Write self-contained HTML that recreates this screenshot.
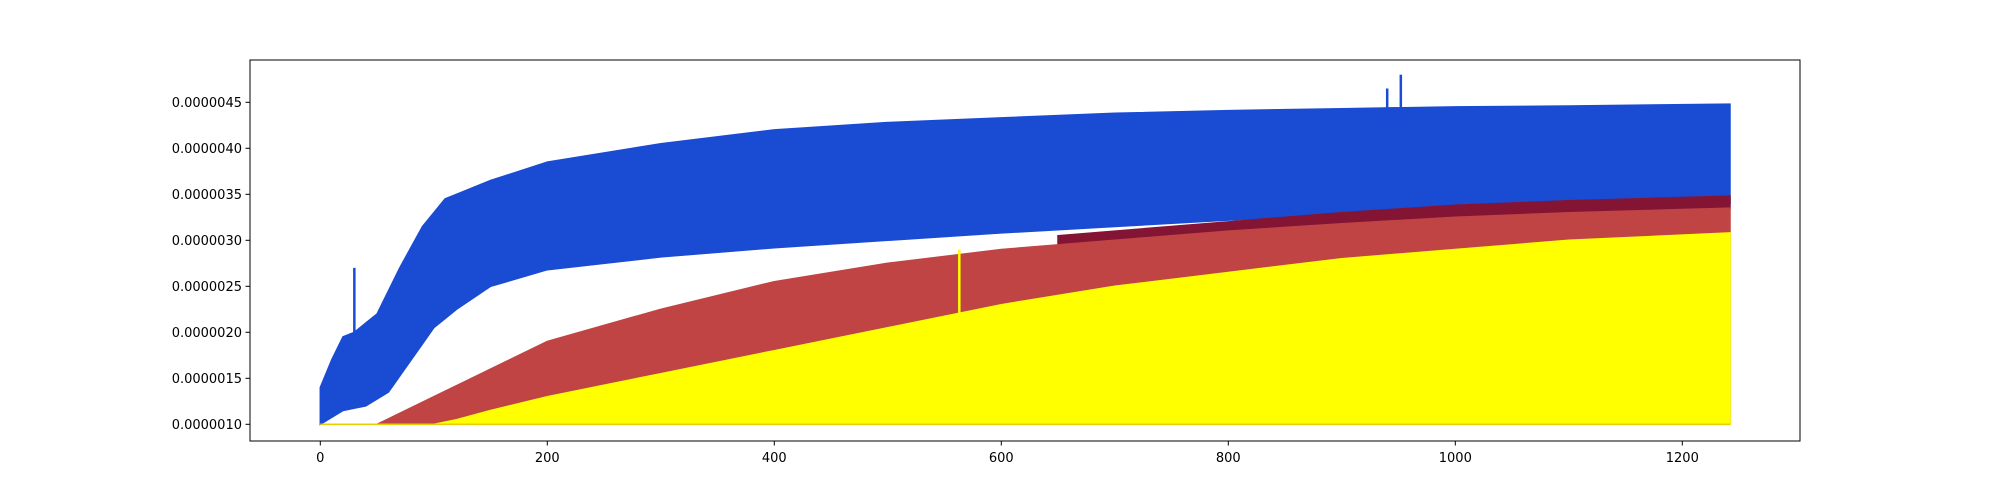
<!DOCTYPE html>
<html><head><meta charset="utf-8"><style>
html,body{margin:0;padding:0;background:#fff;}
svg{display:block;font-family:"DejaVu Sans","Liberation Sans",sans-serif;}
</style></head><body>
<svg id="chart" width="2000" height="496" viewBox="0 0 2000 496" xmlns="http://www.w3.org/2000/svg">
<rect x="0" y="0" width="2000" height="496" fill="#fff"/>
<g id="series"></g>
<g id="axes"></g>
</svg>
<script>
// values in units of 1e-7
const blueX = [0,10,20,30,50,70,90,110,150,200,300,400,500,600,700,800,900,1000,1100,1242];
const blueUpper = [14,17,19.5,20,22,27,31.5,34.5,36.5,38.5,40.5,42,42.8,43.3,43.8,44.1,44.3,44.5,44.6,44.8];
const blueLowerX = [0,20,40,60,80,100,120,150,200,300,400,500,600,700,800,900,1000,1100,1242];
const blueLower = [10,11.5,12,13.5,17,20.5,22.5,25,26.8,28.2,29.2,30,30.8,31.5,32.2,32.8,33.2,33.5,34];
const darkX = [650,700,800,900,1000,1100,1242];
const darkUpper = [30.5,31,32,33,33.8,34.3,34.8];
const redX = [50,100,150,200,300,400,500,600,700,800,900,1000,1100,1242];
const redUpper = [10,13,16,19,22.5,25.5,27.5,29,30,31,31.8,32.5,33,33.5];
const yellowX = [100,120,150,200,300,400,500,600,700,800,900,1000,1100,1242];
const yellowUpper = [10,10.5,11.5,13,15.5,18,20.5,23,25,26.5,28,29,30,30.8];
const spikeX = [30,940,952,563];
const spikeVal = [27,46.5,48,29];
const spikeSeries = ['blue','blue','blue','yellow'];
const xTicks = [0,200,400,600,800,1000,1200];
const yTicks = [10,15,20,25,30,35,40,45];
const yTickLabels = ["0.0000010","0.0000015","0.0000020","0.0000025","0.0000030","0.0000035","0.0000040","0.0000045"];

const L=250,R=1800,T=60,B=441;
const X = v => 320.3 + v*(1362/1200);
const Y = v => 424.3 - (v-10)*9.2;
const NS='http://www.w3.org/2000/svg';
const S=document.getElementById('series'), A=document.getElementById('axes');
function interp(xs,ys,x){ if(x<=xs[0])return ys[0]; for(let i=1;i<xs.length;i++){ if(x<=xs[i]){const t=(x-xs[i-1])/(xs[i]-xs[i-1]);return ys[i-1]+t*(ys[i]-ys[i-1]);}} return ys[ys.length-1]; }
function band(ux,uy,lx,ly,color,name){
  const xs=[...new Set([...ux,...(lx||[])])].filter(x=>x>=ux[0]&&x<=ux[ux.length-1]).sort((a,b)=>a-b);
  let d='';
  xs.forEach((x,i)=>{d+=(i?'L':'M')+X(x).toFixed(1)+','+Y(interp(ux,uy,x)).toFixed(1);});
  for(let i=xs.length-1;i>=0;i--){const x=xs[i]; const lo=ly?interp(lx,ly,x):10; d+='L'+X(x).toFixed(1)+','+Y(lo).toFixed(1);}
  const p=document.createElementNS(NS,'path');
  p.setAttribute('d',d+'Z'); p.setAttribute('fill',color); p.setAttribute('stroke',color); p.setAttribute('stroke-width','1.5');
  
  
  S.appendChild(p);
}
band(blueX,blueUpper,blueLowerX,blueLower,'#1a4bd3','blue-series');
band(darkX,darkUpper,redX,redUpper,'#841434','dark-red-series');
band(redX,redUpper,null,null,'#c04444','red-series');
band(yellowX,yellowUpper,null,null,'#ffff00','yellow-series');
const bl=document.createElementNS(NS,'line');
bl.setAttribute('x1',X(0));bl.setAttribute('x2',X(1242));bl.setAttribute('y1',Y(10));bl.setAttribute('y2',Y(10));
bl.setAttribute('stroke','#e8d000');bl.setAttribute('stroke-width','1.5');


S.appendChild(bl);
spikeX.forEach((x,i)=>{
  const c=spikeSeries[i]==='blue'?'#1a4bd3':'#ffff00';
  const base=spikeSeries[i]==='blue'?interp(blueX,blueUpper,x)-3:interp(yellowX,yellowUpper,x);
  const l=document.createElementNS(NS,'line');
  l.setAttribute('x1',X(x));l.setAttribute('x2',X(x));l.setAttribute('y1',Y(base));l.setAttribute('y2',Y(spikeVal[i]));
  l.setAttribute('stroke',c);l.setAttribute('stroke-width','2.5');
  
  
  S.appendChild(l);
});
const fr=document.createElementNS(NS,'rect');
fr.setAttribute('x',L);fr.setAttribute('y',T);fr.setAttribute('width',R-L);fr.setAttribute('height',B-T);
fr.setAttribute('fill','none');fr.setAttribute('stroke','#000');fr.setAttribute('stroke-width','1');


A.appendChild(fr);
xTicks.forEach(v=>{
  const t=document.createElementNS(NS,'line');
  t.setAttribute('x1',X(v));t.setAttribute('x2',X(v));t.setAttribute('y1',B);t.setAttribute('y2',B+4.5);t.setAttribute('stroke','#000');
  
  
  A.appendChild(t);
  const tx=document.createElementNS(NS,'text');
  tx.setAttribute('x',X(v));tx.setAttribute('y',B+21);tx.setAttribute('text-anchor','middle');tx.setAttribute('font-size','13');
  tx.textContent=v;
  
  
  A.appendChild(tx);
});
yTicks.forEach((v,i)=>{
  const t=document.createElementNS(NS,'line');
  t.setAttribute('x1',L-4.5);t.setAttribute('x2',L);t.setAttribute('y1',Y(v));t.setAttribute('y2',Y(v));t.setAttribute('stroke','#000');
  
  
  A.appendChild(t);
  const tx=document.createElementNS(NS,'text');
  tx.setAttribute('x',L-8);tx.setAttribute('y',Y(v)+4.6);tx.setAttribute('text-anchor','end');tx.setAttribute('font-size','13');
  tx.textContent=yTickLabels[i];
  
  
  A.appendChild(tx);
});
</script>
</body></html>
